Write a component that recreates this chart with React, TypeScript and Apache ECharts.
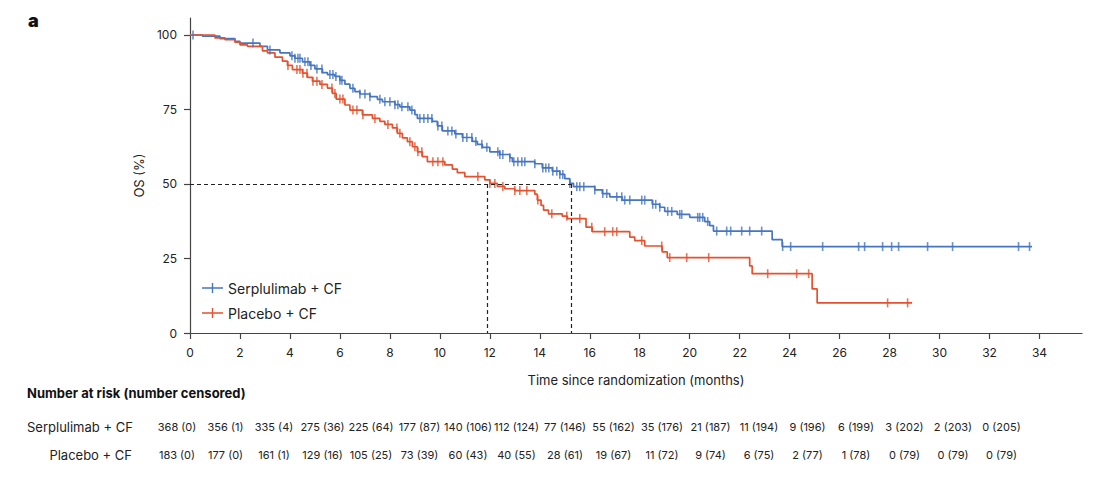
import React, { useEffect, useRef } from "react";
import * as echarts from "echarts";

// ---------- data ----------
const serpCurve: [number, number][] = [
  [0, 100], [0.5, 99.6], [1.2, 98.8], [1.8, 97.9], [2.0, 97.3], [2.8, 96.2], [3.1, 95], [3.6, 94],
  [4.0, 93], [4.2, 92.2], [4.5, 91], [4.8, 89.8], [5.0, 88.6], [5.3, 87.4], [5.5, 86.7], [5.8, 86.1],
  [6.0, 84.8], [6.2, 83.5], [6.4, 82.1], [6.6, 81], [6.8, 80.2], [7.2, 79.3], [7.5, 78.4], [7.7, 77.6],
  [8.2, 76.6], [8.4, 75.9], [8.8, 74.8], [9.0, 73.3], [9.1, 72], [9.7, 71], [9.9, 69.5], [10.1, 67.8],
  [10.6, 66.8], [10.9, 65.6], [11.3, 64.3], [11.5, 63.3], [11.7, 62.3], [12.0, 60.8], [12.4, 59.9],
  [12.8, 58.8], [12.9, 57.5], [13.8, 56.8], [14.1, 55.4], [14.5, 54.3], [14.8, 53.2], [15.0, 51.8],
  [15.2, 50.2], [15.35, 49.1], [16.2, 48], [16.5, 46.8], [16.8, 45.7], [17.3, 44.6], [18.5, 43.2],
  [18.8, 42.2], [19.0, 40.8], [19.5, 39.8], [20.0, 38.8], [20.6, 37.4], [20.8, 36], [20.95, 34.2],
  [23.3, 31.3], [23.7, 29], [33.7, 29],
];
const placCurve: [number, number][] = [
  [0, 100], [1.0, 99], [1.4, 98.4], [1.8, 97.6], [2.0, 96.7], [2.3, 96.2], [2.9, 94.7], [3.1, 94],
  [3.4, 92.6], [3.7, 91.2], [3.9, 89.8], [4.1, 88.4], [4.5, 87.2], [4.7, 85.8], [4.9, 84.5], [5.2, 83.4],
  [5.5, 82.2], [5.7, 80.4], [5.85, 78.5], [6.2, 76.5], [6.4, 74.8], [6.9, 73.2], [7.3, 72], [7.6, 71],
  [7.8, 70], [8.1, 68.8], [8.3, 67], [8.5, 65.5], [8.7, 64.2], [8.9, 62.5], [9.1, 60.8], [9.3, 59.2],
  [9.5, 57.5], [10.2, 56.4], [10.5, 55], [10.7, 53.8], [11.0, 52.5], [11.8, 51.4], [12.0, 50.2],
  [12.3, 49.2], [12.6, 48.4], [13.0, 47.8], [13.8, 46.6], [13.9, 44.6], [14.05, 42.8], [14.15, 41.2],
  [14.35, 40], [14.9, 39.2], [15.1, 38.4], [15.85, 35.5], [16.1, 34], [17.6, 32.2], [17.8, 31],
  [18.2, 29.2], [18.9, 27.2], [19.1, 25.3], [22.4, 22.5], [22.5, 19.9], [24.9, 14.8], [25.1, 10.1],
  [28.9, 10.1],
];
const serpCensorTimes: number[] = [
  0.12, 2.52, 3.2, 4.08, 4.2, 4.32, 4.4, 4.6, 4.72, 4.84, 5.08, 5.28, 5.6, 5.72, 5.84, 6.0, 6.08, 6.52,
  6.8, 7.0, 7.2, 7.6, 7.8, 8.0, 8.2, 8.32, 8.48, 8.72, 8.88, 9.2, 9.36, 9.52, 9.68, 9.92, 10.08, 10.32,
  10.48, 10.64, 10.92, 11.08, 11.28, 11.44, 11.68, 11.88, 12.32, 12.4, 12.52, 12.8, 12.96, 13.12, 13.28,
  13.4, 13.8, 14.12, 14.24, 14.36, 14.52, 14.68, 14.8, 14.92, 15.2, 15.48, 15.6, 15.76, 16.2, 16.52,
  16.68, 17.08, 17.28, 17.4, 17.6, 18.08, 18.2, 18.52, 18.64, 18.8, 19.12, 19.28, 19.6, 19.68, 20.32,
  20.4, 20.52, 20.72, 21.08, 21.48, 21.64, 22.08, 22.4, 22.88, 23.72, 24.04, 25.32, 26.76, 27.0, 27.72,
  28.08, 28.36, 29.52, 30.52, 33.16, 33.6,
];
const placCensorTimes: number[] = [
  3.92, 4.28, 4.4, 4.52, 4.68, 4.92, 5.08, 5.28, 5.68, 5.8, 6.0, 6.12, 6.52, 6.68, 6.92, 7.4, 7.92, 8.28,
  8.4, 8.8, 9.0, 9.12, 9.28, 9.72, 9.92, 10.12, 11.52, 12.0, 12.2, 12.52, 13.0, 13.2, 13.48, 13.92,
  14.48, 15.08, 15.6, 16.08, 16.6, 16.92, 17.08, 18.08, 18.88, 19.2, 19.88, 20.76, 23.12, 24.28, 24.76,
  27.92, 28.72,
];
const medianTimes: number[] = [11.9, 15.25];
const medianLevel = 50;

const xTicks: number[] = [0, 2, 4, 6, 8, 10, 12, 14, 16, 18, 20, 22, 24, 26, 28, 30, 32, 34];
const yTicks: number[] = [0, 25, 50, 75, 100];

const seriesNames: string[] = ["Serplulimab + CF", "Placebo + CF"];
const serpAtRisk: number[] = [368, 356, 335, 275, 225, 177, 140, 112, 77, 55, 35, 21, 11, 9, 6, 3, 2, 0];
const serpCensored: number[] = [0, 1, 4, 36, 64, 87, 106, 124, 146, 162, 176, 187, 194, 196, 199, 202, 203, 205];
const placAtRisk: number[] = [183, 177, 161, 129, 105, 73, 60, 40, 28, 19, 11, 9, 6, 2, 1, 0, 0, 0];
const placCensored: number[] = [0, 0, 1, 16, 25, 39, 43, 55, 61, 67, 72, 74, 75, 77, 78, 79, 79, 79];

// ---------- style ----------
const BLUE = "#4675c1";
const RED = "#e4522f";
const FONT = "Inter, 'Noto Sans', sans-serif";
const TXT = "#222";

function survAt(curve: [number, number][], t: number): number {
  let s = curve[0][1];
  for (const [ti, si] of curve) {
    if (ti <= t) s = si;
    else break;
  }
  return s;
}

const plusIcon = "path://M0,4.3H21V5.7H0Z M9.8,0H11.2V10H9.8Z";

function buildOption() {
  const graphics: any[] = [
    { type: "text", x: 28, y: 20, style: { text: "a", font: `900 18px ${FONT}`, fill: "#111", textVerticalAlign: "middle" } },
    { type: "text", x: 27, y: 393, style: { text: "Number at risk (number censored)", font: `bold 13px ${FONT}`, fill: "#111", textVerticalAlign: "middle" } },
    { type: "text", x: 27, y: 427, style: { text: seriesNames[0], font: `13px ${FONT}`, fill: TXT, textVerticalAlign: "middle" } },
    { type: "text", x: 132, y: 455, style: { text: seriesNames[1], font: `13px ${FONT}`, fill: TXT, textAlign: "right", textVerticalAlign: "middle" } },
  ];
  xTicks.forEach((_, i) => {
    const cx = 177 + 48.5 * i;
    graphics.push({ type: "text", x: cx, y: 427, style: { text: `${serpAtRisk[i]} (${serpCensored[i]})`, font: `11px ${FONT}`, fill: TXT, textAlign: "center", textVerticalAlign: "middle" } });
    graphics.push({ type: "text", x: cx, y: 455, style: { text: `${placAtRisk[i]} (${placCensored[i]})`, font: `11px ${FONT}`, fill: TXT, textAlign: "center", textVerticalAlign: "middle" } });
  });

  const axisLineStyle = { color: "#444", width: 1.2 };
  const dashed = { color: "#222", width: 1.2, type: [4, 3] as any };

  return {
    animation: false,
    backgroundColor: "#fff",
    grid: { left: 190, right: 25, top: 18, bottom: 148 },
    xAxis: {
      type: "value", min: 0, max: 35.7,
      axisLine: { show: true, lineStyle: axisLineStyle },
      axisTick: { show: true, length: 6, customValues: xTicks, lineStyle: axisLineStyle },
      axisLabel: { customValues: xTicks, margin: 13, fontSize: 12, color: TXT, fontFamily: FONT },
      splitLine: { show: false },
      name: "Time since randomization (months)", nameLocation: "middle", nameGap: 40,
      nameTextStyle: { fontSize: 13, color: TXT, fontFamily: FONT },
    },
    yAxis: {
      type: "value", min: 0, max: 105.7,
      axisLine: { show: true, lineStyle: axisLineStyle },
      axisTick: { show: true, length: 6, customValues: yTicks, lineStyle: axisLineStyle },
      axisLabel: { customValues: yTicks, margin: 13, fontSize: 12, color: TXT, fontFamily: FONT },
      splitLine: { show: false },
      name: "OS (%)", nameLocation: "middle", nameGap: 45, nameRotate: 90,
      nameTextStyle: { fontSize: 13, color: TXT, fontFamily: FONT },
    },
    legend: {
      data: seriesNames, orient: "vertical", left: 197, top: 276, icon: plusIcon,
      itemWidth: 21, itemHeight: 10, itemGap: 11,
      textStyle: { fontSize: 14, color: TXT, fontFamily: FONT },
    },
    graphic: graphics,
    series: [
      {
        name: seriesNames[0], type: "line", step: "end", data: serpCurve, showSymbol: false, symbol: "none",
        lineStyle: { color: BLUE, width: 1.7 }, itemStyle: { color: BLUE }, z: 3,
      },
      {
        name: seriesNames[1], type: "line", step: "end", data: placCurve, showSymbol: false, symbol: "none",
        lineStyle: { color: RED, width: 1.7 }, itemStyle: { color: RED }, z: 3,
        markLine: {
          silent: true, symbol: ["none", "none"], label: { show: false }, lineStyle: dashed,
          data: [
            [{ coord: [0, medianLevel] }, { coord: [medianTimes[1], medianLevel] }],
            [{ coord: [medianTimes[0], medianLevel] }, { coord: [medianTimes[0], 0] }],
            [{ coord: [medianTimes[1], medianLevel] }, { coord: [medianTimes[1], 0] }],
          ],
        },
      },
      {
        type: "scatter", data: serpCensorTimes.map((t) => [t, survAt(serpCurve, t)]),
        symbol: "rect", symbolSize: [1.6, 9], itemStyle: { color: BLUE }, z: 4, silent: true,
      },
      {
        type: "scatter", data: placCensorTimes.map((t) => [t, survAt(placCurve, t)]),
        symbol: "rect", symbolSize: [1.6, 9], itemStyle: { color: RED }, z: 4, silent: true,
      },
    ],
  };
}

export default function App() {
  const ref = useRef<HTMLDivElement>(null);
  useEffect(() => {
    const chart = echarts.init(ref.current!, null, { renderer: "svg" });
    chart.setOption(buildOption() as any);
    return () => chart.dispose();
  }, []);
  return (
    <div
      ref={ref}
      style={{ position: "fixed", left: 0, top: 0, width: 1107, height: 481, background: "#fff" }}
    />
  );
}
